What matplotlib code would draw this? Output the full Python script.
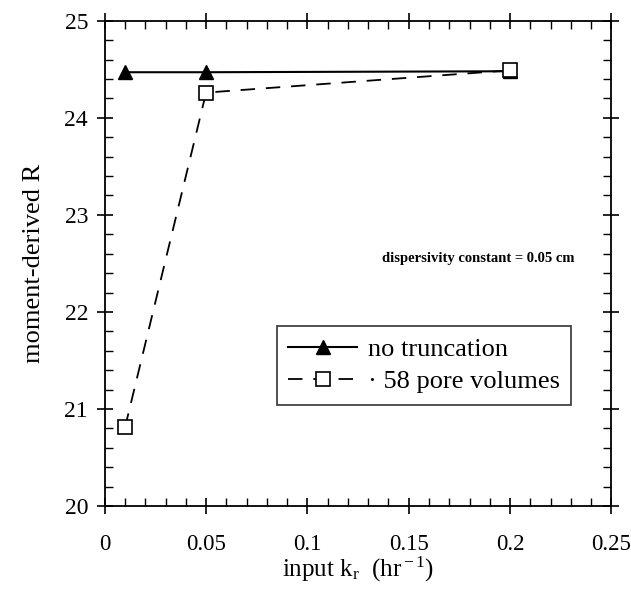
import matplotlib
matplotlib.use('Agg')
import matplotlib.pyplot as plt
from matplotlib.ticker import MultipleLocator, FormatStrFormatter

kr_full = [0.01, 0.05, 0.2]
r_full = [24.47, 24.47, 24.48]
kr_trunc = [0.01, 0.05, 0.2]
r_trunc = [20.81, 24.26, 24.49]

plt.rcParams['font.family'] = ['Liberation Serif', 'DejaVu Serif']
plt.rcParams['mathtext.fontset'] = 'custom'
plt.rcParams['mathtext.rm'] = 'Liberation Serif'
plt.rcParams['mathtext.it'] = 'Liberation Serif:italic'

fig = plt.figure(figsize=(6.31, 5.94), dpi=100)
ax = fig.add_axes([0.166, 0.148, 0.803, 0.817])

ax.plot(kr_full, r_full, '-', color='black', lw=1.5, marker='^', ms=10,
        mfc='black', mec='black', label='no truncation')
ax.plot(kr_trunc, r_trunc, '--', color='black', lw=1.3, dashes=(8, 6), marker='s', ms=10,
        mfc='white', mec='black', mew=1.2, label='· 58 pore volumes')

ax.set_xlim(0, 0.25)
ax.set_ylim(20, 25)
ax.xaxis.set_major_locator(MultipleLocator(0.05))
ax.xaxis.set_minor_locator(MultipleLocator(0.01))
ax.yaxis.set_major_locator(MultipleLocator(1))
ax.yaxis.set_minor_locator(MultipleLocator(0.2))
ax.xaxis.set_major_formatter(FormatStrFormatter('%g'))
ax.tick_params(which='major', direction='inout', length=12, width=1.2,
               top=True, right=True, labelsize=17)
ax.tick_params(axis='x', which='major', pad=14, labelsize=16.5)
ax.tick_params(axis='y', which='major', pad=6)
ax.tick_params(which='minor', direction='in', length=6, width=1,
               top=True, right=True)
for s in ax.spines.values():
    s.set_linewidth(1.3)

ax.set_xlabel(r'input k$_{\rm r}$  (hr$^{\rm -1}$)', fontsize=18, labelpad=0)
ax.set_ylabel('moment-derived R', fontsize=19, labelpad=14)

ax.text(0.137, 22.55, 'dispersivity constant = 0.05 cm', fontsize=10.5,
        fontweight='bold', ha='left', va='center')

leg = ax.legend(loc='upper left', bbox_to_anchor=(0.339, 0.371), fontsize=19,
                frameon=True, fancybox=False, edgecolor='black',
                handlelength=2.6, handletextpad=0.4, borderpad=0.45,
                labelspacing=0.3, borderaxespad=0)
leg.get_frame().set_linewidth(1.2)

fig.savefig('out.png', dpi=100)
